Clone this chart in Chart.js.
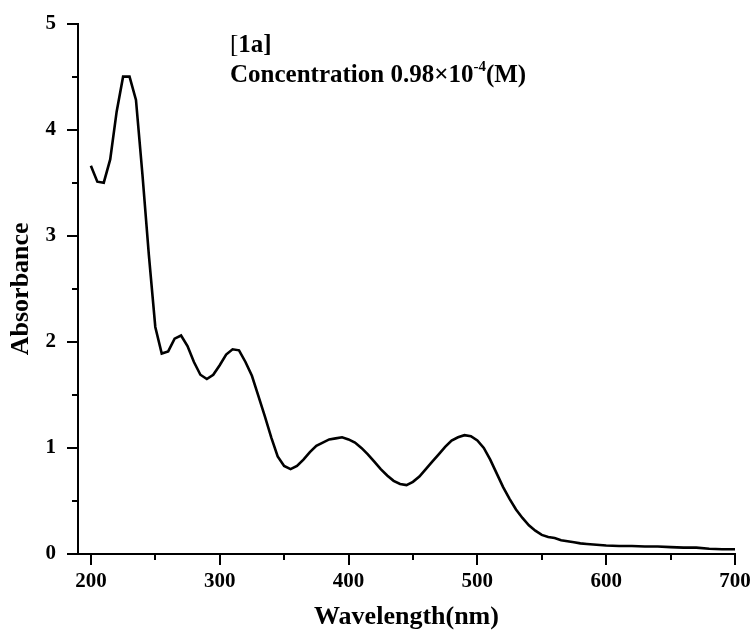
<!DOCTYPE html>
<html>
<head>
<meta charset="utf-8">
<title>UV-Vis [1a]</title>
<script src="https://cdn.jsdelivr.net/npm/chart.js@4.4.0/dist/chart.umd.min.js"></script>
<style>
  html, body { margin: 0; padding: 0; background: #fff; }
  #wrap { width: 756px; height: 639px; }
</style>
</head>
<body>
<div id="wrap"><canvas id="chart-uv" width="756" height="639"></canvas></div>
<script>
// UV-Vis absorbance spectrum, compound [1a]

// Wavelength (nm) - 5 nm steps up to 600, then 10 nm
const wavelengths = [
  200, 205, 210, 215, 220, 225, 230, 235, 240, 245,
  250, 255, 260, 265, 270, 275, 280, 285, 290, 295,
  300, 305, 310, 315, 320, 325, 330, 335, 340, 345,
  350, 355, 360, 365, 370, 375, 380, 385, 390, 395,
  400, 405, 410, 415, 420, 425, 430, 435, 440, 445,
  450, 455, 460, 465, 470, 475, 480, 485, 490, 495,
  500, 505, 510, 515, 520, 525, 530, 535, 540, 545,
  550, 555, 560, 565, 570, 575, 580, 585, 590, 595,
  600, 610, 620, 630, 640, 650, 660, 670, 680, 690, 700
];

// Absorbance
const absorbance = [
  3.66, 3.51, 3.50, 3.72, 4.17, 4.50, 4.50, 4.28, 3.58, 2.82,
  2.14, 1.89, 1.91, 2.03, 2.06, 1.96, 1.81, 1.69, 1.65, 1.69,
  1.78, 1.88, 1.93, 1.92, 1.81, 1.68, 1.49, 1.30, 1.10, 0.92,
  0.83, 0.80, 0.83, 0.89, 0.96, 1.02, 1.05, 1.08, 1.09, 1.10,
  1.08, 1.05, 1.00, 0.94, 0.87, 0.80, 0.74, 0.69, 0.66, 0.65,
  0.68, 0.73, 0.80, 0.87, 0.94, 1.01, 1.07, 1.10, 1.12, 1.11,
  1.07, 1.00, 0.89, 0.76, 0.63, 0.52, 0.42, 0.34, 0.27, 0.22,
  0.18, 0.16, 0.15, 0.13, 0.12, 0.11, 0.10, 0.095, 0.09, 0.085,
  0.08, 0.075, 0.075, 0.07, 0.07, 0.065, 0.06, 0.06, 0.05, 0.045, 0.045
];

// Axis ticks (major + minor)
const xTicks = [200, 250, 300, 350, 400, 450, 500, 550, 600, 650, 700];
const yTicks = [0, 0.5, 1, 1.5, 2, 2.5, 3, 3.5, 4, 4.5, 5];

const FONT = "'Liberation Serif', 'Times New Roman', serif";

// Tick marks: long for labelled values, short for the in-between ones
const tickMarks = {
  id: "tickMarks",
  afterDraw(chart) {
    const { ctx, chartArea, scales } = chart;
    ctx.save();
    ctx.strokeStyle = "#000";
    ctx.lineWidth = 2;
    ctx.beginPath();
    scales.x.ticks.forEach(t => {
      const px = Math.round(scales.x.getPixelForValue(t.value));
      const len = t.value % 100 === 0 ? 11 : 6;
      ctx.moveTo(px, chartArea.bottom);
      ctx.lineTo(px, chartArea.bottom + len);
    });
    scales.y.ticks.forEach(t => {
      const py = Math.round(scales.y.getPixelForValue(t.value));
      const len = Number.isInteger(t.value) ? 11 : 6;
      ctx.moveTo(chartArea.left - len, py);
      ctx.lineTo(chartArea.left, py);
    });
    ctx.stroke();
    ctx.restore();
  }
};

// Sample label in the upper part of the plot
const sampleLabel = {
  id: "sampleLabel",
  afterDraw(chart) {
    const ctx = chart.ctx;
    ctx.save();
    ctx.fillStyle = "#000";
    ctx.textBaseline = "alphabetic";
    let x = 230;
    ctx.font = "25px " + FONT;
    ctx.fillText("[", x, 52);
    x += ctx.measureText("[").width;
    ctx.font = "bold 25px " + FONT;
    ctx.fillText("1a]", x, 52);

    x = 230;
    const main = "Concentration 0.98\u00d710";
    ctx.fillText(main, x, 82);
    x += ctx.measureText(main).width;
    ctx.font = "bold 15px " + FONT;
    ctx.fillText("-4", x, 71);
    x += ctx.measureText("-4").width;
    ctx.font = "bold 25px " + FONT;
    ctx.fillText("(M)", x, 82);
    ctx.restore();
  }
};

const points = wavelengths.map((w, i) => ({ x: w, y: absorbance[i] }));

new Chart(document.getElementById("chart-uv"), {
  type: "line",
  data: {
    datasets: [{
      data: points,
      borderColor: "#000",
      borderWidth: 2.6,
      pointRadius: 0,
      tension: 0,
      fill: false
    }]
  },
  options: {
    responsive: false,
    animation: false,
    devicePixelRatio: 1,
    layout: { padding: { left: 0, right: 21, top: 22, bottom: 0 } },
    plugins: { legend: { display: false }, tooltip: { enabled: false } },
    scales: {
      x: {
        type: "linear",
        min: 190,
        max: 700,
        afterBuildTicks: s => { s.ticks = xTicks.map(v => ({ value: v })); },
        afterFit: s => { s.height = 85; },
        grid: { display: false, drawTicks: true, tickLength: 11 },
        border: { display: true, color: "#000", width: 2 },
        ticks: {
          autoSkip: false,
          maxRotation: 0,
          padding: 4,
          color: "#000",
          font: { family: FONT, size: 21, weight: "bold" },
          callback: v => (v % 100 === 0 ? String(v) : "")
        },
        title: {
          display: true,
          text: "Wavelength(nm)",
          color: "#000",
          font: { family: FONT, size: 26, weight: "bold" },
          padding: { top: 0, bottom: 6 }
        }
      },
      y: {
        type: "linear",
        min: 0,
        max: 5,
        afterBuildTicks: s => { s.ticks = yTicks.map(v => ({ value: v })); },
        afterFit: s => { s.width = 78; },
        grid: { display: false, drawTicks: true, tickLength: 11 },
        border: { display: true, color: "#000", width: 2 },
        ticks: {
          autoSkip: false,
          padding: 11,
          color: "#000",
          font: { family: FONT, size: 21, weight: "bold" },
          callback: v => (Number.isInteger(v) ? String(v) : "")
        },
        title: {
          display: true,
          text: "Absorbance",
          color: "#000",
          font: { family: FONT, size: 26, weight: "bold" },
          padding: { top: 6, bottom: 0 }
        }
      }
    }
  },
  plugins: [tickMarks, sampleLabel]
});

console.log("Spectrum drawn:", wavelengths.length, "points");
</script>
</body>
</html>
